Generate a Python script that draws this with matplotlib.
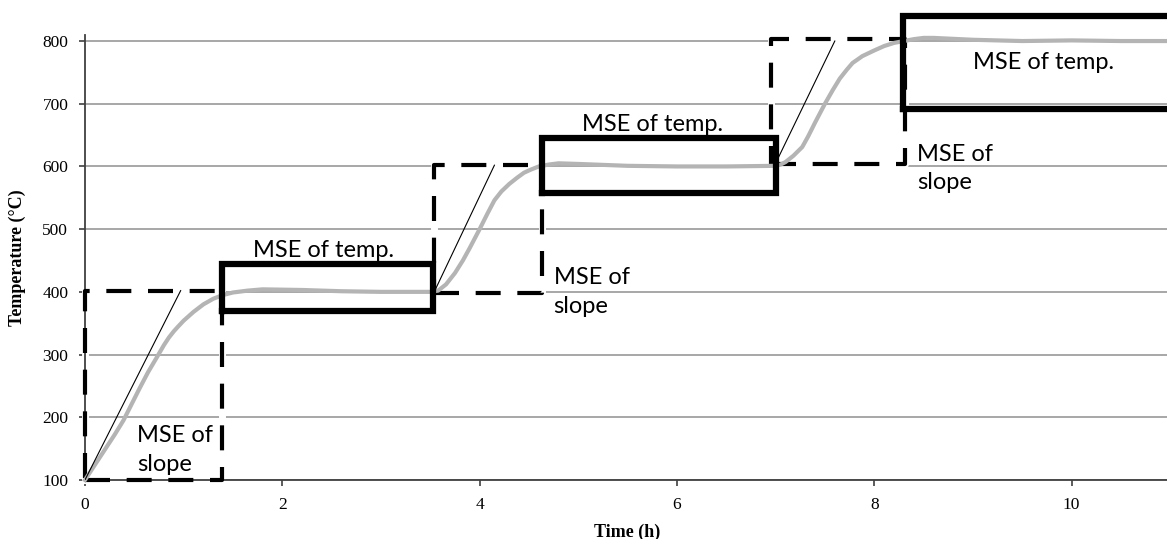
import matplotlib.pyplot as plt

time_h = [0, 0.1, 0.2, 0.3, 0.39, 0.47, 0.55, 0.64, 0.73, 0.8, 0.85, 0.9, 0.94, 1.0, 1.1,
          1.2, 1.3, 1.4, 1.5, 1.65, 1.8, 2.2, 2.6, 3.0, 3.5,
          3.58, 3.66, 3.75, 3.83, 3.9, 4.0, 4.08, 4.15, 4.22, 4.3, 4.38, 4.45, 4.52, 4.6,
          4.7, 4.8, 5.0, 5.5, 6.0, 6.5, 7.0,
          7.05, 7.1, 7.18, 7.27, 7.33, 7.4, 7.5, 7.58, 7.65, 7.72, 7.78, 7.88, 8.0, 8.1,
          8.2, 8.3, 8.4, 8.5, 8.6, 9.0, 9.5, 10.0, 10.5, 11.0]
temp_c = [100, 124, 148, 172, 195, 220, 245, 272, 296, 315, 327, 337, 344, 354, 368,
          380, 389, 395, 399, 402, 404, 403, 401, 400, 400,
          402, 412, 430, 450, 470, 500, 525, 546, 560, 572, 582, 590, 595, 600,
          603, 605, 604, 601, 600, 600, 601,
          603, 607, 617, 631, 648, 670, 700, 722, 740, 754, 765, 776, 785, 792,
          797, 800, 803, 805, 805, 802, 800, 801, 800, 800]

# ideal ramps (thin lines)
ramps = [((0, 0.97), (100, 402)), ((3.54, 4.15), (400, 602)), ((7.0, 7.6), (605, 800))]

# dashed "MSE of slope" windows: x0, x1, y0, y1
slope_boxes = [(0, 1.39, 100, 402), (3.54, 4.63, 398, 602), (6.95, 8.31, 604, 803)]
# solid "MSE of temp." windows
temp_boxes = [(1.39, 3.53, 369, 444), (4.63, 7.0, 558, 645), (8.29, 11.3, 692, 840)]

fig = plt.figure(figsize=(11.67, 5.39), dpi=100)
ax = fig.add_axes([0.0728, 0.1095, 0.93, 0.826])
ax.set_xlim(0, 11.0)
ax.set_ylim(100, 810)

ax.set_yticks(range(100, 900, 100))
ax.set_xticks(range(0, 12, 2))
ax.grid(axis="y", color="#a0a0a0", linewidth=1.3)
ax.set_axisbelow(True)
for s in ["top", "right"]:
    ax.spines[s].set_visible(False)
ax.spines["left"].set_color("#404040")
ax.spines["bottom"].set_color("#404040")
ax.spines["left"].set_linewidth(1.3)
ax.spines["bottom"].set_linewidth(1.3)
ax.tick_params(length=4, width=1.2, color="#404040", labelsize=12.5, pad=8)
for lab in ax.get_xticklabels() + ax.get_yticklabels():
    lab.set_fontfamily("Liberation Serif")

ax.set_ylabel("Temperature (°C)", fontfamily="Liberation Serif", fontweight="bold", fontsize=13, labelpad=12)
ax.set_xlabel("Time (h)", fontfamily="Liberation Serif", fontweight="bold", fontsize=13, labelpad=8)

for x0, x1, y0, y1 in slope_boxes:
    xs = [x0, x1, x1, x0, x0]
    ys = [y0, y0, y1, y1, y0]
    ax.plot(xs, ys, color="white", linewidth=5, clip_on=False, zorder=2)
    ax.plot(xs, ys, color="black", linewidth=3, dashes=(6, 4), clip_on=False, zorder=3)

ax.plot(time_h, temp_c, color="#b4b4b4", linewidth=3, zorder=4, clip_on=False,
        solid_joinstyle="round")

for (xr, yr) in ramps:
    ax.plot(xr, yr, color="black", linewidth=0.8, zorder=5)

for x0, x1, y0, y1 in temp_boxes:
    ax.plot([x0, x1, x1, x0, x0], [y0, y0, y1, y1, y0], color="black", linewidth=4.5,
            clip_on=False, zorder=6, solid_joinstyle="miter")

tfont = dict(fontfamily="Lato", fontsize=17, color="black", zorder=7)
ax.text(2.42, 450, "MSE of temp.", ha="center", va="bottom", **tfont)
ax.text(5.75, 650, "MSE of temp.", ha="center", va="bottom", **tfont)
ax.text(9.72, 765, "MSE of temp.", ha="center", va="center", **tfont)
ax.text(0.53, 148, "MSE of\nslope", ha="left", va="center", linespacing=1.45, **tfont)
ax.text(4.75, 400, "MSE of\nslope", ha="left", va="center", linespacing=1.45, **tfont)
ax.text(8.43, 597, "MSE of\nslope", ha="left", va="center", linespacing=1.45, **tfont)

fig.savefig("out.png", dpi=100)
